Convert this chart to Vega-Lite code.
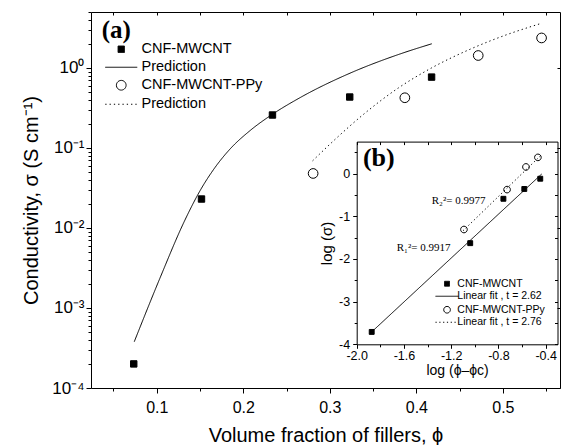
{
  "$schema": "https://vega.github.io/schema/vega-lite/v6.json",
  "width": 469,
  "height": 376,
  "autosize": {"type": "none"},
  "padding": {"left": 91, "top": 12, "right": 1, "bottom": 57},
  "background": "white",
  "config": {
    "view": {"stroke": null},
    "font": "Liberation Sans",
    "axis": {
      "grid": false,
      "domainColor": "black",
      "tickColor": "black",
      "labelColor": "black",
      "titleColor": "black",
      "labelFont": "Liberation Sans",
      "titleFont": "Liberation Sans",
      "titleFontWeight": "normal",
      "domainWidth": 1,
      "tickWidth": 1,
      "labelFlush": false,
      "labelOverlap": false
    },
    "legend": {
      "labelFont": "Liberation Sans",
      "labelColor": "black",
      "symbolStrokeWidth": 1,
      "symbolOpacity": 1
    }
  },
  "datasets": {
    "mainPts": [
      {"phi": 0.0734, "sigma": 0.0002, "series": "CNF-MWCNT"},
      {"phi": 0.1517, "sigma": 0.023, "series": "CNF-MWCNT"},
      {"phi": 0.2337, "sigma": 0.258, "series": "CNF-MWCNT"},
      {"phi": 0.323, "sigma": 0.433, "series": "CNF-MWCNT"},
      {"phi": 0.4176, "sigma": 0.768, "series": "CNF-MWCNT"},
      {"phi": 0.2807, "sigma": 0.048, "series": "CNF-MWCNT-PPy"},
      {"phi": 0.3867, "sigma": 0.424, "series": "CNF-MWCNT-PPy"},
      {"phi": 0.4715, "sigma": 1.43, "series": "CNF-MWCNT-PPy"},
      {"phi": 0.5447, "sigma": 2.37, "series": "CNF-MWCNT-PPy"}
    ],
    "mainCurves": [
      {"phi": 0.074, "sigma": 0.000379, "series": "Prediction"},
      {"phi": 0.1037, "sigma": 0.002363, "series": "Prediction"},
      {"phi": 0.1326, "sigma": 0.01258, "series": "Prediction"},
      {"phi": 0.15, "sigma": 0.02919, "series": "Prediction"},
      {"phi": 0.1673, "sigma": 0.05696, "series": "Prediction"},
      {"phi": 0.1846, "sigma": 0.0967, "series": "Prediction"},
      {"phi": 0.2078, "sigma": 0.1647, "series": "Prediction"},
      {"phi": 0.234, "sigma": 0.2649, "series": "Prediction"},
      {"phi": 0.2655, "sigma": 0.4246, "series": "Prediction"},
      {"phi": 0.3233, "sigma": 0.8594, "series": "Prediction"},
      {"phi": 0.3811, "sigma": 1.494, "series": "Prediction"},
      {"phi": 0.4178, "sigma": 2.003, "series": "Prediction"},
      {"phi": 0.2801, "sigma": 0.069, "series": "Prediction "},
      {"phi": 0.3042, "sigma": 0.1225, "series": "Prediction "},
      {"phi": 0.3408, "sigma": 0.2735, "series": "Prediction "},
      {"phi": 0.379, "sigma": 0.56, "series": "Prediction "},
      {"phi": 0.4171, "sigma": 0.994, "series": "Prediction "},
      {"phi": 0.4622, "sigma": 1.714, "series": "Prediction "},
      {"phi": 0.5026, "sigma": 2.56, "series": "Prediction "},
      {"phi": 0.542, "sigma": 3.54, "series": "Prediction "}
    ],
    "mainText": [
      {"phi": 0.0364, "sigma": 2.96, "label": "(a)"}
    ],
    "insetPts": [
      {"lx": -1.873, "ly": -3.71, "series": "CNF-MWCNT"},
      {"lx": -1.039, "ly": -1.63, "series": "CNF-MWCNT"},
      {"lx": -0.758, "ly": -0.59, "series": "CNF-MWCNT"},
      {"lx": -0.581, "ly": -0.36, "series": "CNF-MWCNT"},
      {"lx": -0.446, "ly": -0.12, "series": "CNF-MWCNT"},
      {"lx": -1.092, "ly": -1.31, "series": "CNF-MWCNT-PPy"},
      {"lx": -0.727, "ly": -0.375, "series": "CNF-MWCNT-PPy"},
      {"lx": -0.567, "ly": 0.156, "series": "CNF-MWCNT-PPy"},
      {"lx": -0.466, "ly": 0.38, "series": "CNF-MWCNT-PPy"}
    ],
    "insetFits": [
      {"lx": -1.873, "ly": -3.71, "series": " Linear fit , t = 2.62"},
      {"lx": -0.434, "ly": -0.01, "series": " Linear fit , t = 2.62"},
      {"lx": -1.1, "ly": -1.34, "series": " Linear fit , t = 2.76"},
      {"lx": -0.434, "ly": 0.445, "series": " Linear fit , t = 2.76"}
    ],
    "insetTag": [
      {"lx": -1.947, "ly": 0.375, "label": "(b)"}
    ],
    "insetNotes": [
      {"lx": -1.365, "ly": -0.633, "label": "R₂²= 0.9977"},
      {"lx": -1.661, "ly": -1.734, "label": "R₁²= 0.9917"}
    ]
  },
  "layer": [
    {
      "layer": [
        {
          "data": {"name": "mainPts"},
          "mark": {"type": "point", "size": 100, "strokeWidth": 1, "opacity": 1},
          "encoding": {
            "x": {
              "field": "phi", "type": "quantitative",
              "scale": {"domain": [0.024, 0.566], "nice": false, "zero": false},
              "axis": {
                "orient": "bottom", "values": [0.1, 0.2, 0.3, 0.4, 0.5], "format": ".1f",
                "labelFontSize": 16, "tickSize": 5, "labelPadding": 6,
                "title": "Volume fraction of fillers, ϕ", "titleFontSize": 20, "titlePadding": 10
              }
            },
            "y": {
              "field": "sigma", "type": "quantitative",
              "scale": {"type": "log", "domain": [0.0001, 5], "nice": false},
              "axis": {
                "orient": "left", "values": [0.0001, 0.001, 0.01, 0.1, 1],
                "labelExpr": "datum.value > 0.5 ? '10⁰' : datum.value > 0.05 ? '10⁻¹' : datum.value > 0.005 ? '10⁻²' : datum.value > 0.0005 ? '10⁻³' : '10⁻⁴'",
                "labelFontSize": 17, "tickSize": 5, "labelPadding": 2,
                "title": "Conductivity, σ (S cm⁻¹)", "titleFontSize": 20, "titlePadding": 10
              }
            },
            "shape": {
              "field": "series", "type": "nominal",
              "scale": {"domain": ["CNF-MWCNT", "Prediction", "CNF-MWCNT-PPy", "Prediction "],
                "range": ["M-0.64,-0.64H0.64V0.64H-0.64Z", "M-3.2,0H3.2", "M-0.97,0A0.97,0.97,0,1,1,0.97,0A0.97,0.97,0,1,1,-0.97,0Z", "M-3.2,0H3.2"]},
              "legend": {"title": null, "orient": "none", "legendX": 23, "legendY": 30, "labelFontSize": 14.5, "symbolSize": 100, "labelOffset": 13, "rowPadding": 3, "padding": 0, "labelLimit": 300}
            },
            "fill": {
              "field": "series", "type": "nominal",
              "scale": {"domain": ["CNF-MWCNT", "Prediction", "CNF-MWCNT-PPy", "Prediction "],
                "range": ["black", "transparent", "white", "transparent"]},
              "legend": {"title": null, "orient": "none", "legendX": 23, "legendY": 30, "labelFontSize": 14.5, "symbolSize": 100, "labelOffset": 13, "rowPadding": 3, "padding": 0, "labelLimit": 300}
            },
            "stroke": {
              "field": "series", "type": "nominal",
              "scale": {"domain": ["CNF-MWCNT", "Prediction", "CNF-MWCNT-PPy", "Prediction "],
                "range": ["black", "black", "black", "black"]},
              "legend": {"title": null, "orient": "none", "legendX": 23, "legendY": 30, "labelFontSize": 14.5, "symbolSize": 100, "labelOffset": 13, "rowPadding": 3, "padding": 0, "labelLimit": 300}
            }
          }
        },
        {
          "data": {"name": "mainCurves"},
          "mark": {"type": "line", "strokeWidth": 1, "interpolate": "monotone"},
          "encoding": {
            "x": {
              "field": "phi", "type": "quantitative",
              "axis": {"orient": "bottom", "values": [0.05, 0.15, 0.25, 0.35, 0.45, 0.55], "labels": false, "domain": false, "tickSize": 3, "title": null}
            },
            "y": {
              "field": "sigma", "type": "quantitative",
              "axis": {"orient": "left", "values": [0.0002, 0.0003, 0.0004, 0.0005, 0.0006, 0.0007, 0.0008, 0.0009, 0.002, 0.003, 0.004, 0.005, 0.006, 0.007, 0.008, 0.009, 0.02, 0.03, 0.04, 0.05, 0.06, 0.07, 0.08, 0.09, 0.2, 0.3, 0.4, 0.5, 0.6, 0.7, 0.8, 0.9, 2, 3, 4, 5], "labels": false, "domain": false, "tickSize": 3, "title": null}
            },
            "strokeDash": {
              "field": "series", "type": "nominal",
              "scale": {"domain": ["CNF-MWCNT", "Prediction", "CNF-MWCNT-PPy", "Prediction "],
                "range": [[1, 0], [1, 0], [1, 0], [1.3, 3]]},
              "legend": {"title": null, "orient": "none", "legendX": 23, "legendY": 30, "labelFontSize": 14.5, "symbolSize": 100, "labelOffset": 13, "rowPadding": 3, "padding": 0, "labelLimit": 300}
            },
            "stroke": {
              "field": "series", "type": "nominal",
              "legend": {"title": null, "orient": "none", "legendX": 23, "legendY": 30, "labelFontSize": 14.5, "symbolSize": 100, "labelOffset": 13, "rowPadding": 3, "padding": 0, "labelLimit": 300}
            }
          }
        },
        {
          "data": {"name": "mainText"},
          "mark": {"type": "text", "font": "Liberation Serif", "fontWeight": "bold", "fontSize": 25, "align": "left", "baseline": "middle", "color": "black"},
          "encoding": {
            "x": {
              "field": "phi", "type": "quantitative",
              "axis": {"orient": "top", "values": [0.05, 0.1, 0.15, 0.2, 0.25, 0.3, 0.35, 0.4, 0.45, 0.5, 0.55], "labels": false, "tickSize": -3, "title": null}
            },
            "y": {
              "field": "sigma", "type": "quantitative",
              "axis": {"orient": "right", "values": [0.0001, 0.001, 0.01, 0.1, 1], "labels": false, "tickSize": -3, "title": null}
            },
            "text": {"field": "label"}
          }
        }
      ],
      "resolve": {"axis": {"x": "independent", "y": "independent"}}
    },
    {
      "layer": [
        {
          "data": {"name": "insetPts"},
          "mark": {"type": "point", "size": 49, "strokeWidth": 1, "opacity": 1},
          "encoding": {
            "x": {
              "field": "lx", "type": "quantitative",
              "scale": {"domain": [-2.0, -0.3], "range": [265.7, 466.5], "nice": false, "zero": false},
              "axis": {
                "orient": "bottom", "offset": -43.7, "values": [-2.0, -1.6, -1.2, -0.8, -0.4],
                "labelExpr": "replace(format(datum.value, '.1f'), '−', '-')",
                "labelFontSize": 12.5, "tickSize": 4, "labelPadding": 1,
                "title": "log (ϕ–ϕc)", "titleFontSize": 14, "titlePadding": 2
              }
            },
            "y": {
              "field": "ly", "type": "quantitative",
              "scale": {"domain": [-4, 0.75], "range": [332.3, 129.6], "nice": false, "zero": false},
              "axis": {
                "orient": "left", "offset": -265.7, "values": [0, -1, -2, -3, -4],
                "labelExpr": "replace(format(datum.value, 'd'), '−', '-')",
                "labelFontSize": 12.5, "tickSize": 4, "labelPadding": 3,
                "title": "log (σ)", "titleFontSize": 15, "titlePadding": 4
              }
            },
            "shape": {
              "field": "series", "type": "nominal",
              "scale": {"domain": ["CNF-MWCNT", " Linear fit , t = 2.62", "CNF-MWCNT-PPy", " Linear fit , t = 2.76"],
                "range": ["M-0.7,-0.7H0.7V0.7H-0.7Z", "M-3.3,0H3.3", "M-0.95,0A0.95,0.95,0,1,1,0.95,0A0.95,0.95,0,1,1,-0.95,0Z", "M-3.3,0H3.3"]},
              "legend": {"title": null, "orient": "none", "legendX": 350.8, "legendY": 266.5, "labelFontSize": 10.5, "symbolSize": 49, "labelOffset": 5, "rowPadding": 1.5, "padding": 0, "labelLimit": 300}
            },
            "fill": {
              "field": "series", "type": "nominal",
              "scale": {"domain": ["CNF-MWCNT", " Linear fit , t = 2.62", "CNF-MWCNT-PPy", " Linear fit , t = 2.76"],
                "range": ["black", "transparent", "white", "transparent"]},
              "legend": {"title": null, "orient": "none", "legendX": 350.8, "legendY": 266.5, "labelFontSize": 10.5, "symbolSize": 49, "labelOffset": 5, "rowPadding": 1.5, "padding": 0, "labelLimit": 300}
            },
            "stroke": {
              "field": "series", "type": "nominal",
              "scale": {"domain": ["CNF-MWCNT", " Linear fit , t = 2.62", "CNF-MWCNT-PPy", " Linear fit , t = 2.76"],
                "range": ["black", "black", "black", "black"]},
              "legend": {"title": null, "orient": "none", "legendX": 350.8, "legendY": 266.5, "labelFontSize": 10.5, "symbolSize": 49, "labelOffset": 5, "rowPadding": 1.5, "padding": 0, "labelLimit": 300}
            }
          }
        },
        {
          "data": {"name": "insetFits"},
          "mark": {"type": "line", "strokeWidth": 1},
          "encoding": {
            "x": {
              "field": "lx", "type": "quantitative",
              "axis": {"orient": "bottom", "offset": -43.7, "values": [-1.8, -1.4, -1.0, -0.6], "labels": false, "domain": false, "tickSize": 2.5, "title": null}
            },
            "y": {
              "field": "ly", "type": "quantitative",
              "axis": {"orient": "left", "offset": -265.7, "values": [0.5, -0.5, -1.5, -2.5, -3.5], "labels": false, "domain": false, "tickSize": 2.5, "title": null}
            },
            "strokeDash": {
              "field": "series", "type": "nominal",
              "scale": {"domain": ["CNF-MWCNT", " Linear fit , t = 2.62", "CNF-MWCNT-PPy", " Linear fit , t = 2.76"],
                "range": [[1, 0], [1, 0], [1, 0], [1.2, 2.6]]},
              "legend": {"title": null, "orient": "none", "legendX": 350.8, "legendY": 266.5, "labelFontSize": 10.5, "symbolSize": 49, "labelOffset": 5, "rowPadding": 1.5, "padding": 0, "labelLimit": 300}
            },
            "stroke": {
              "field": "series", "type": "nominal",
              "legend": {"title": null, "orient": "none", "legendX": 350.8, "legendY": 266.5, "labelFontSize": 10.5, "symbolSize": 49, "labelOffset": 5, "rowPadding": 1.5, "padding": 0, "labelLimit": 300}
            }
          }
        },
        {
          "data": {"name": "insetTag"},
          "mark": {"type": "text", "font": "Liberation Serif", "fontWeight": "bold", "fontSize": 26, "align": "left", "baseline": "middle", "color": "black"},
          "encoding": {
            "x": {
              "field": "lx", "type": "quantitative",
              "axis": {"orient": "top", "offset": -129.6, "values": [-2.0, -1.8, -1.6, -1.4, -1.2, -1.0, -0.8, -0.6, -0.4], "labels": false, "tickSize": -3, "title": null}
            },
            "y": {
              "field": "ly", "type": "quantitative",
              "axis": {"orient": "right", "offset": -2.5, "values": [0.5, 0, -0.5, -1, -1.5, -2, -2.5, -3, -3.5, -4], "labels": false, "tickSize": -3, "title": null}
            },
            "text": {"field": "label"}
          }
        },
        {
          "data": {"name": "insetNotes"},
          "mark": {"type": "text", "font": "Liberation Serif", "fontSize": 11, "align": "left", "baseline": "middle", "color": "black"},
          "encoding": {
            "x": {"field": "lx", "type": "quantitative", "axis": null},
            "y": {"field": "ly", "type": "quantitative", "axis": null},
            "text": {"field": "label"}
          }
        }
      ],
      "resolve": {"axis": {"x": "independent", "y": "independent"}}
    }
  ],
  "resolve": {
    "scale": {"x": "independent", "y": "independent", "shape": "independent", "fill": "independent", "stroke": "independent", "strokeDash": "independent"}
  }
}
